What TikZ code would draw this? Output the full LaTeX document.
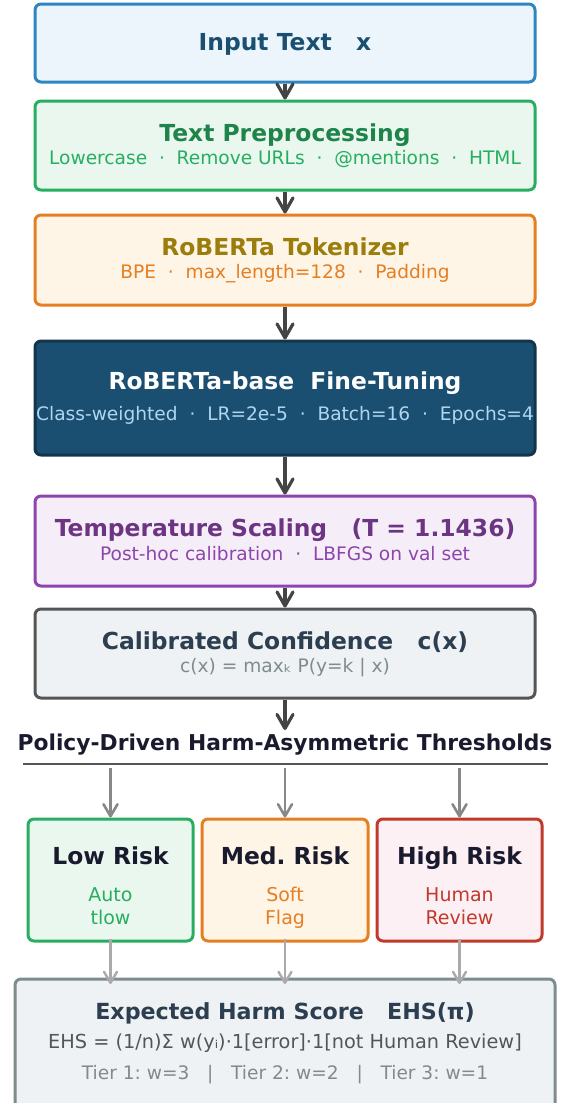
\documentclass[tikz,border=0pt]{standalone}
\usepackage{fontspec}
\setmainfont{DejaVu Sans}
\usetikzlibrary{arrows.meta}
\frenchspacing
\definecolor{inB}{HTML}{2E86C1}\definecolor{inF}{HTML}{EBF5FB}\definecolor{inT}{HTML}{1B4F72}
\definecolor{grB}{HTML}{27AE60}\definecolor{grF}{HTML}{E9F7EF}\definecolor{grT}{HTML}{1E8449}
\definecolor{orB}{HTML}{E67E22}\definecolor{orF}{HTML}{FEF5E7}\definecolor{orT}{HTML}{9A7D0A}
\definecolor{ftF}{HTML}{1B4F72}\definecolor{ftB}{HTML}{12354D}\definecolor{ftS}{HTML}{AED6F1}
\definecolor{puB}{HTML}{8E44AD}\definecolor{puF}{HTML}{F5EEF8}\definecolor{puT}{HTML}{6C3483}
\definecolor{caB}{HTML}{555555}\definecolor{caF}{HTML}{EEF2F4}\definecolor{caT}{HTML}{2C3E50}\definecolor{caS}{HTML}{7F8C8D}
\definecolor{hdT}{HTML}{1A1A2E}
\definecolor{rdB}{HTML}{C0392B}\definecolor{rdF}{HTML}{FCF0F4}
\definecolor{ehB}{HTML}{7F8C8D}\definecolor{ehS}{HTML}{555555}\definecolor{ehL}{HTML}{888888}
\definecolor{arD}{HTML}{444444}\definecolor{arG}{HTML}{888888}\definecolor{arL}{HTML}{AAAAAA}
\begin{document}
\begin{tikzpicture}[x=1pt,y=-1pt,
  box/.style={rectangle, rounded corners=6pt, line width=3pt, inner sep=0pt},
  ttl/.style={inner sep=0pt, text height=17.06pt, text depth=0pt, font=\fontsize{23.4}{27}\selectfont\bfseries},
  sub/.style={inner sep=0pt, text height=13.56pt, text depth=0pt, font=\fontsize{18.6}{24}\selectfont},
  rsub/.style={inner sep=0pt, text height=36.65pt, text depth=0pt, align=center, font=\fontsize{19}{22.8}\selectfont},
  darr/.style={draw=arD, line width=3.2pt, -{Straight Barb[length=14pt,width=16pt,round]}},
  garr/.style={draw=arG, line width=2.6pt, -{Straight Barb[length=12pt,width=14pt,round]}},
  larr/.style={draw=arL, line width=2.4pt, -{Straight Barb[length=11pt,width=13pt,round]}}]
\useasboundingbox (0,0) rectangle (564,1103);

% main pipeline boxes
\node[box, draw=inB, fill=inF, minimum width=500pt, minimum height=78pt] (in) at (285,43) {};
\node[ttl, text=inT] (inT) at (285,42) {Input Text\ \ \ x};

\node[box, draw=grB, fill=grF, minimum width=500pt, minimum height=89pt] (pre) at (285,145.5) {};
\node[ttl, text=grT] (preT) at (285,133) {Text Preprocessing};
\node[sub, text=grB] (preS) at (285,157.5) {Lowercase \ · \ Remove URLs \ · \ @mentions \ · \ HTML};

\node[box, draw=orB, fill=orF, minimum width=500pt, minimum height=90pt] (tok) at (285,260) {};
\node[ttl, text=orT] (tokT) at (285,247.2) {RoBERTa Tokenizer};
\node[sub, text=orB] (tokS) at (285,272.2) {BPE \ · \ max\_length=128 \ · \ Padding};

\node[box, draw=ftB, fill=ftF, minimum width=500pt, minimum height=114pt] (ft) at (285,398) {};
\node[ttl, text=white] (ftT) at (285,381.3) {RoBERTa-base \ Fine-Tuning};
\node[sub, text=ftS] (ftS) at (285,414.2) {Class-weighted \ · \ LR=2e-5 \ · \ Batch=16 \ · \ Epochs=4};

\node[box, draw=puB, fill=puF, minimum width=500pt, minimum height=90pt] (ts) at (285,541) {};
\node[ttl, text=puT] (tsT) at (285,527.8) {Temperature Scaling \ \ (T = 1.1436)};
\node[sub, text=puB] (tsS) at (285,553.3) {Post-hoc calibration \ · \ LBFGS on val set};

\node[box, draw=caB, fill=caF, minimum width=500pt, minimum height=89pt] (cal) at (285,653.5) {};
\node[ttl, text=caT] (calT) at (285,641) {Calibrated Confidence \ \ c(x)};
\node[sub, text=caS] (calS) at (285,666) {c(x) = maxₖ P(y=k | x)};

% heading
\node[inner sep=0pt, text height=15.9pt, text depth=0pt, font=\fontsize{21.8}{26}\selectfont\bfseries, text=hdT] (hd) at (285,742.3) {Policy-Driven Harm-Asymmetric Thresholds};
\coordinate (hdTop) at (285,730);
\coordinate (ruleL) at (23,764);
\coordinate (ruleR) at (548,764);
\draw[caB, line width=2.6pt] (ruleL) -- (ruleR);

% risk boxes
\node[box, draw=grB, fill=grF, minimum width=165pt, minimum height=122pt] (low) at (110.5,880) {};
\node[ttl, text=hdT] (lowT) at (110.5,856) {Low Risk};
\node[rsub, text=grB] (lowS) at (110.5,906) {Auto\\tlow};

\node[box, draw=orB, fill=orF, minimum width=166pt, minimum height=122pt] (med) at (285,880) {};
\node[ttl, text=hdT] (medT) at (285,856) {Med. Risk};
\node[rsub, text=orB] (medS) at (285,906) {Soft\\Flag};

\node[box, draw=rdB, fill=rdF, minimum width=165pt, minimum height=122pt] (high) at (459.5,880) {};
\node[ttl, text=hdT] (highT) at (459.5,856) {High Risk};
\node[rsub, text=rdB] (highS) at (459.5,906) {Human\\Review};

% EHS box
\node[box, draw=ehB, fill=caF, minimum width=540pt, minimum height=140pt] (ehs) at (285,1049) {};
\node[ttl, text=caT, text height=16.2pt, font=\fontsize{22.2}{26}\selectfont\bfseries] (ehsT) at (285,1011) {Expected Harm Score \ \ EHS(π)};
\node[sub, text=ehS, text height=14.07pt, font=\fontsize{19.3}{24}\selectfont] (ehsS) at (285,1041.7) {EHS = (1/n)Σ w(yᵢ)·1[error]·1[not Human Review]};
\node[sub, text=ehL] (ehsL) at (285,1072.9) {Tier 1: w=3 \ \ | \ \ Tier 2: w=2 \ \ | \ \ Tier 3: w=1};

% pipeline arrows
\draw[darr] (in.south) -- (pre.north);
\draw[darr] (pre.south) -- (tok.north);
\draw[darr] (tok.south) -- (ft.north);
\draw[darr] (ft.south) -- (ts.north);
\draw[darr] (ts.south) -- (cal.north);
\draw[darr] (cal.south) -- (hdTop);

% threshold arrows
\coordinate (gL) at (110.5,768);
\coordinate (gM) at (285,768);
\coordinate (gR) at (459.5,768);
\draw[garr] (gL) -- (low.north);
\draw[garr] (gM) -- (med.north);
\draw[garr] (gR) -- (high.north);

% to EHS
\coordinate (eL) at (110.5,984);
\coordinate (eM) at (285,984);
\coordinate (eR) at (459.5,984);
\draw[larr] ([yshift=4pt]low.south) -- (eL);
\draw[larr] ([yshift=4pt]med.south) -- (eM);
\draw[larr] ([yshift=4pt]high.south) -- (eR);
\end{tikzpicture}
\end{document}
